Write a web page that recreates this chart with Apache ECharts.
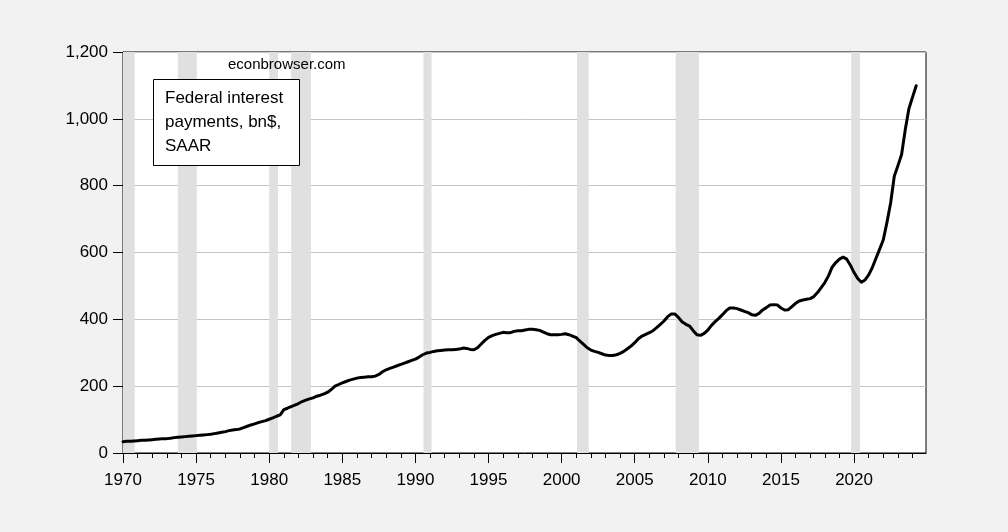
<!DOCTYPE html>
<html>
<head>
<meta charset="utf-8">
<script src="https://cdn.jsdelivr.net/npm/echarts@6/dist/echarts.min.js"></script>
<style>
html,body{margin:0;padding:0;background:#f2f2f2;}
#chart{width:1008px;height:532px;}
</style>
</head>
<body>
<div id="chart"></div>
<script>
// Quarterly federal interest payments, bn$, SAAR (1970Q1 .. 2024Q2)
const startYear = 1970;
const interestByYear = [
  [34, 35, 35, 36],      // 1970
  [37, 38, 38, 39],      // 1971
  [40, 41, 42, 43],      // 1972
  [43, 44, 46, 47],      // 1973
  [48, 49, 50, 51],      // 1974
  [52, 53, 54, 55],      // 1975
  [56, 58, 60, 62],      // 1976
  [64, 67, 69, 70],      // 1977
  [72, 76, 80, 84],      // 1978
  [87, 91, 94, 97],      // 1979
  [101, 105, 110, 114],  // 1980
  [130, 134, 139, 143],  // 1981
  [148, 154, 158, 162],  // 1982
  [165, 170, 173, 177],  // 1983
  [182, 190, 200, 205],  // 1984
  [210, 214, 218, 221],  // 1985
  [224, 226, 227, 228],  // 1986
  [228, 230, 235, 243],  // 1987
  [249, 253, 257, 261],  // 1988
  [265, 269, 273, 277],  // 1989
  [281, 287, 294, 299],  // 1990
  [301, 304, 306, 307],  // 1991
  [308, 309, 309, 310],  // 1992
  [311, 314, 313, 310],  // 1993
  [309, 315, 326, 337],  // 1994
  [346, 351, 355, 358],  // 1995
  [361, 360, 360, 364],  // 1996
  [366, 366, 368, 370],  // 1997
  [370, 369, 367, 362],  // 1998
  [357, 354, 354, 354],  // 1999
  [355, 357, 354, 350],  // 2000
  [345, 335, 325, 315],  // 2001
  [308, 304, 301, 297],  // 2002
  [293, 292, 292, 294],  // 2003
  [298, 304, 312, 320],  // 2004
  [330, 342, 350, 355],  // 2005
  [360, 366, 375, 385],  // 2006
  [395, 408, 416, 416],  // 2007
  [405, 392, 385, 380],  // 2008
  [366, 354, 352, 358],  // 2009
  [368, 382, 393, 403],  // 2010
  [414, 426, 434, 434],  // 2011
  [432, 428, 424, 420],  // 2012
  [414, 412, 418, 428],  // 2013
  [435, 443, 444, 443],  // 2014
  [434, 428, 429, 438],  // 2015
  [448, 455, 458, 460],  // 2016
  [462, 468, 480, 495],  // 2017
  [510, 530, 556, 570],  // 2018
  [580, 586, 580, 562],  // 2019
  [540, 522, 511, 518],  // 2020
  [533, 555, 583, 610],  // 2021
  [638, 690, 748, 828],  // 2022
  [860, 893, 967, 1030], // 2023
  [1065, 1099]           // 2024
];

// NBER recessions (shaded), as [start, end] in fractional years
const recessions = [
  [1970.0, 1970.8], [1973.75, 1975.05], [1980.0, 1980.6], [1981.5, 1982.85],
  [1990.55, 1991.1], [2001.05, 2001.85], [2007.8, 2009.4], [2019.8, 2020.4]
];

const majorYears = [1970, 1975, 1980, 1985, 1990, 1995, 2000, 2005, 2010, 2015, 2020];
const minorYears = [];
for (let y = 1971; y <= 2024; y++) if (y % 5 !== 0) minorYears.push(y);
const yTicks = [0, 200, 400, 600, 800, 1000, 1200];

const seriesData = [];
interestByYear.forEach((qs, i) => {
  qs.forEach((v, q) => seriesData.push([startYear + i + q / 4, v]));
});

const chart = echarts.init(document.getElementById('chart'), null, {renderer: 'canvas'});
const font = 'Arial, "Liberation Sans", sans-serif';

chart.setOption({
  backgroundColor: '#f2f2f2',
  animation: false,
  grid: {
    left: 123, right: 82, top: 52, bottom: 79,
    show: true, backgroundColor: '#ffffff', borderColor: '#000', borderWidth: 1
  },
  xAxis: [{
    type: 'value', min: 1970, max: 2024.92, position: 'bottom',
    axisLine: {show: true, lineStyle: {color: '#000', width: 1}},
    axisTick: {show: true, length: 10, customValues: majorYears, lineStyle: {color: '#000'}},
    axisLabel: {customValues: majorYears, color: '#000', fontSize: 17, fontFamily: font, margin: 19,
      formatter: v => String(Math.round(v))},
    splitLine: {show: false}
  }, {
    type: 'value', min: 1970, max: 2024.92, position: 'bottom',
    axisLine: {show: false},
    axisTick: {show: true, length: 5, customValues: minorYears, lineStyle: {color: '#000'}},
    axisLabel: {show: false},
    splitLine: {show: false}
  }],
  yAxis: {
    type: 'value', min: 0, max: 1200, interval: 200,
    axisLine: {show: true, lineStyle: {color: '#000'}},
    axisTick: {show: true, length: 10, lineStyle: {color: '#000'}},
    axisLabel: {color: '#000', fontSize: 17, fontFamily: font, margin: 15,
      formatter: v => v.toLocaleString('en-US')},
    splitLine: {show: true, lineStyle: {color: '#c4c4c4', width: 1}}
  },
  series: [{
    type: 'line',
    xAxisIndex: 0,
    data: seriesData,
    showSymbol: false,
    lineStyle: {color: '#000', width: 3, join: 'round', cap: 'round'},
    z: 5,
    markArea: {
      silent: true,
      itemStyle: {color: '#e0e0e0'},
      data: recessions.map(r => [{xAxis: r[0]}, {xAxis: r[1]}])
    }
  }],
  graphic: [
    {type: 'text', left: 228, top: 57, z: 100,
      style: {text: 'econbrowser.com', fill: '#000', font: '15px ' + font, textAlign: 'center'}},
    {type: 'rect', shape: {x: 153.5, y: 79.5, width: 146, height: 86}, z: 100,
      style: {fill: '#fff', stroke: '#000', lineWidth: 1}},
    {type: 'text', left: 165, top: 86, z: 101,
      style: {text: 'Federal interest\npayments, bn$,\nSAAR', fill: '#000', font: '17px ' + font, lineHeight: 24}}
  ]
});
</script>
</body>
</html>
